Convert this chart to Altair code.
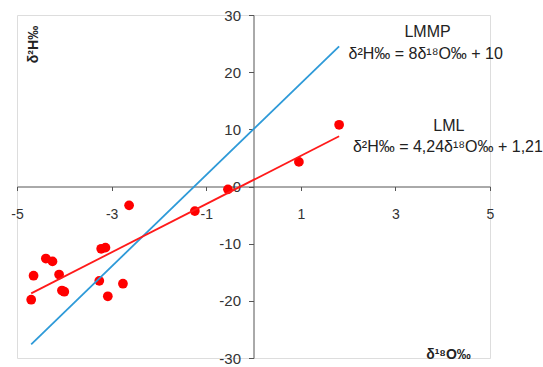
import altair as alt
import pandas as pd

# Measured samples (δ18O ‰, δ2H ‰)
d18O = [-4.70, -4.65, -4.39, -4.25, -4.11, -4.05, -4.00, -3.22, -3.13, -3.26, -3.08, -2.76, -2.63, -1.24, -0.54, 0.96, 1.81]
d2H = [-19.8, -15.6, -12.6, -13.1, -15.4, -18.2, -18.4, -10.9, -10.7, -16.5, -19.2, -17.0, -3.3, -4.3, -0.5, 4.3, 10.8]

# Line endpoints
lml_x = [-4.70, 1.81]
lml_y = [-18.7, 8.8]
lmmp_x = [-4.70, 1.81]
lmmp_y = [-27.6, 24.5]

x_ticks = [-5, -3, -1, 1, 3, 5]
y_ticks = [-30, -20, -10, 0, 10, 20, 30]

labels = ["LMMP", "δ²H‰ = 8δ¹⁸O‰ + 10", "LML", "δ²H‰ = 4,24δ¹⁸O‰ + 1,21"]
label_x = [3.68, 3.64, 4.13, 4.11]
label_y = [27.0, 23.2, 10.6, 6.9]

W, H = 473, 343
FONT = "Liberation Sans"

pts = pd.DataFrame({"x": d18O, "y": d2H})
lml = pd.DataFrame({"x": lml_x, "y": lml_y})
lmmp = pd.DataFrame({"x": lmmp_x, "y": lmmp_y})
ann = pd.DataFrame({"x": label_x, "y": label_y, "t": labels})

xs = alt.Scale(domain=[-5, 5], nice=False, zero=False)
ys = alt.Scale(domain=[-30, 30], nice=False, zero=False)

xaxis = alt.Axis(
    values=x_ticks, offset=-H / 2, grid=False, title="δ¹⁸O‰",
    titleX=431, titleY=168, titleAlign="center", titleBaseline="middle",
    titleFont=FONT, titleFontSize=14, titleFontWeight="bold", titleColor="#222222",
    labelFont=FONT, labelFontSize=14, labelColor="#333333", labelPadding=17,
    labelExpr="'' + datum.value",
    tickSize=4, tickColor="#555555", domainColor="#555555", labelFlush=False,
)
yaxis = alt.Axis(
    values=y_ticks, offset=-W / 2, grid=False, title="δ²H‰",
    titleX=-220, titleY=29, titleAngle=-90, titleAlign="center", titleBaseline="middle",
    titleFont=FONT, titleFontSize=14, titleFontWeight="bold", titleColor="#222222",
    labelFont=FONT, labelFontSize=15, labelColor="#333333", labelPadding=8,
    labelExpr="'' + datum.value",
    tickSize=5, tickColor="#555555", domainColor="#555555", labelFlush=False,
)

base_x = alt.X("x:Q", scale=xs, axis=xaxis)
base_y = alt.Y("y:Q", scale=ys, axis=yaxis)

line_lmmp = alt.Chart(lmmp).mark_line(color="#2e9ad8", strokeWidth=1.8).encode(
    x=alt.X("x:Q", scale=xs), y=alt.Y("y:Q", scale=ys))
line_lml = alt.Chart(lml).mark_line(color="#ff1a1a", strokeWidth=1.8).encode(
    x=alt.X("x:Q", scale=xs), y=alt.Y("y:Q", scale=ys))
points = alt.Chart(pts).mark_circle(color="#ff0000", opacity=1, size=95).encode(
    x=base_x, y=base_y)
text = alt.Chart(ann).mark_text(font=FONT, fontSize=16, color="#222222",
                                align="center", baseline="middle").encode(
    x=alt.X("x:Q", scale=xs), y=alt.Y("y:Q", scale=ys), text="t:N")

chart = alt.layer(points, line_lmmp, line_lml, text).properties(
    width=W, height=H,
    autosize=alt.AutoSizeParams(type="none"),
    padding={"left": 17, "top": 15, "right": 53, "bottom": 9},
).configure_view(stroke=None).configure(background="white")

chart.save("out.html", embed_options={"renderer": "svg", "actions": False})
